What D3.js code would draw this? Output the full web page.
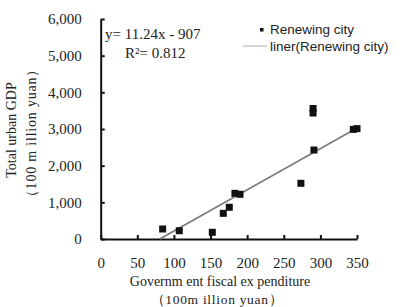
<!DOCTYPE html>
<html>
<head>
<meta charset="utf-8">
<script src="https://cdn.jsdelivr.net/npm/d3@7"></script>
<style>
  body { margin: 0; background: #fff; }
  svg { display: block; }
</style>
</head>
<body>
<div id="chart"></div>
<script>
// data
var expenditure = [84.6, 107.3, 152.4, 167.4, 175.6, 183.3, 190.2, 273.4, 290, 290, 291.2, 345, 350]
var gdp = [273, 226, 183, 700, 865, 1246, 1219, 1519, 3559, 3436, 2427, 2990, 3010]
var x_ticks = [0, 50, 100, 150, 200, 250, 300, 350]
var y_ticks = [0, 1000, 2000, 3000, 4000, 5000, 6000]
var trend_coef = [11.24, -907] // slope, intercept
var equation_lines = ['y= 11.24x - 907', 'R\u00b2= 0.812']
var legend_labels = ['Renewing city', 'liner(Renewing city)']

var width = 400, height = 307
var serif = '"Liberation Serif", "Times New Roman", serif'
var sans = '"Liberation Sans", Arial, sans-serif'

var svg = d3.select('#chart')
    .append('svg')
    .attr('width', width)
    .attr('height', height)

var x = d3.scaleLinear().domain([0, 350]).range([100.7, 357])
var y = d3.scaleLinear().domain([0, 6000]).range([239, 19])

// axes
svg.append('g')
    .attr('transform', `translate(0,${y(0)})`)
    .call(d3.axisBottom(x).tickValues(x_ticks).tickSize(-4).tickSizeOuter(0).tickPadding(18)
        .tickFormat(d3.format('d')))
svg.append('g')
    .attr('transform', `translate(${x(0)},0)`)
    .call(d3.axisLeft(y).tickValues(y_ticks).tickSize(-4).tickSizeOuter(0).tickPadding(19)
        .tickFormat(d3.format(',')))

svg.selectAll('.domain').attr('stroke', '#111').attr('stroke-width', 2)
svg.selectAll('.tick line').attr('stroke', '#111').attr('stroke-width', 2)
svg.selectAll('.tick text')
    .attr('font-family', serif)
    .attr('font-size', 15)
    .attr('fill', '#222')

// trend line from where it crosses zero up to the last x
var x_start = -trend_coef[1] / trend_coef[0], x_end = d3.max(expenditure)
svg.append('line')
    .attr('x1', x(x_start)).attr('y1', y(trend_coef[0] * x_start + trend_coef[1]))
    .attr('x2', x(x_end)).attr('y2', y(trend_coef[0] * x_end + trend_coef[1]))
    .attr('stroke', '#7a7a7a')
    .attr('stroke-width', 1.6)

// points
var pts = expenditure.map((d, i) => [d, gdp[i]])
svg.selectAll('rect.pt')
    .data(pts)
    .enter()
    .append('rect')
    .attr('class', 'pt')
    .attr('x', d => x(d[0]) - 3.5)
    .attr('y', d => y(d[1]) - 3.5)
    .attr('width', 7)
    .attr('height', 7)
    .attr('fill', '#111')

// equation
svg.append('text')
    .attr('x', 105).attr('y', 39)
    .attr('font-family', serif).attr('font-size', 15).attr('fill', '#222')
    .text(equation_lines[0])
svg.append('text')
    .attr('x', 125).attr('y', 58)
    .attr('font-family', serif).attr('font-size', 15).attr('fill', '#222')
    .text(equation_lines[1])

// legend
svg.append('rect')
    .attr('x', 260).attr('y', 28).attr('width', 3.5).attr('height', 3.5)
    .attr('fill', '#111')
svg.append('line')
    .attr('x1', 243).attr('x2', 267).attr('y1', 46).attr('y2', 46)
    .attr('stroke', '#aaa').attr('stroke-width', 1)
svg.selectAll('text.legend')
    .data(legend_labels)
    .enter()
    .append('text')
    .attr('class', 'legend')
    .attr('x', 270)
    .attr('y', (d, i) => 34 + i * 17)
    .attr('font-family', sans)
    .attr('font-size', 13.5)
    .attr('fill', '#222')
    .text(d => d)

// axis titles
svg.append('text')
    .attr('x', 220).attr('y', 286)
    .attr('text-anchor', 'middle')
    .attr('font-family', serif).attr('font-size', 14).attr('fill', '#222')
    .text('Governm ent fiscal ex penditure')
svg.append('text')
    .attr('x', 217).attr('y', 303.5)
    .attr('text-anchor', 'middle')
    .attr('font-family', serif).attr('font-size', 13.5).attr('fill', '#222')
    .attr('letter-spacing', 0.7)
    .text('\uff08100m illion yuan\uff09')

svg.append('text')
    .attr('transform', 'translate(16,130) rotate(-90)')
    .attr('text-anchor', 'middle')
    .attr('font-family', serif).attr('font-size', 14).attr('fill', '#222')
    .text('Total urban GDP')
svg.append('text')
    .attr('transform', 'translate(36,133) rotate(-90)')
    .attr('text-anchor', 'middle')
    .attr('font-family', serif).attr('font-size', 14).attr('fill', '#222')
    .attr('letter-spacing', 0.8)
    .text('\uff08100 m illion yuan\uff09')
</script>
</body>
</html>
